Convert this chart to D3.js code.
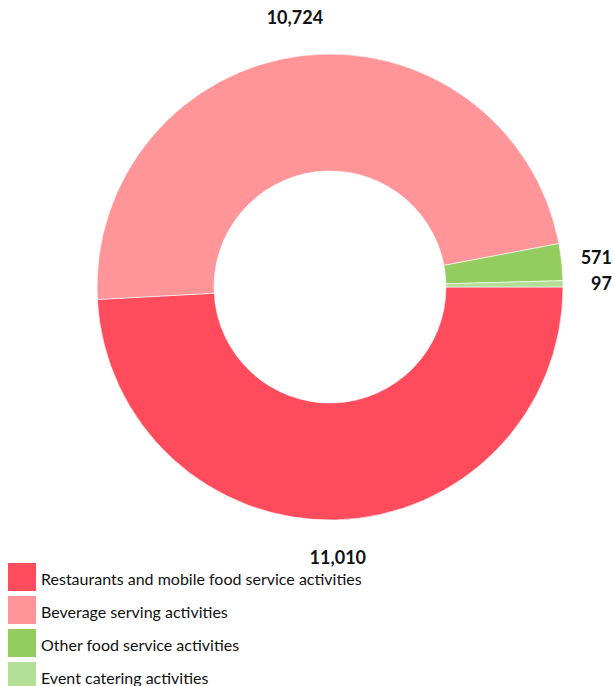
<!DOCTYPE html>
<html>
<head>
<meta charset="utf-8">
<script src="https://cdn.jsdelivr.net/npm/d3@7"></script>
<style>
  body { margin: 0; background: #fff; }
  svg { display: block; font-family: Lato, "Open Sans", sans-serif; }
</style>
</head>
<body>
<div id="chart"></div>
<script>
// categories and values
var categories = [
    "Restaurants and mobile food service activities",
    "Beverage serving activities",
    "Other food service activities",
    "Event catering activities"
];
var values = [11010, 10724, 571, 97];
var colours = ["#ff4c5c", "#ff9599", "#93cd5f", "#b2de96"];

var w = 614, h = 686;
var cx = 330, cy = 287;
var outerR = 233, innerR = 116, labelR = 264;

var svg = d3.select("#chart")
    .append("svg")
    .attr("width", w)
    .attr("height", h);

var data = categories.map(function(c, i) {
    return { name: c, value: values[i], colour: colours[i] };
});

// pie starting at 3 o'clock, keep data order
var pie = d3.pie()
    .sort(null)
    .value(function(d) { return d.value; })
    .startAngle(Math.PI / 2)
    .endAngle(Math.PI / 2 + 2 * Math.PI);

var arc = d3.arc().innerRadius(innerR).outerRadius(outerR);
var labelArc = d3.arc().innerRadius(labelR).outerRadius(labelR);

var g = svg.append("g").attr("transform", "translate(" + cx + "," + cy + ")");

var arcs = pie(data);

g.selectAll("path.slice")
    .data(arcs)
    .enter()
    .append("path")
    .attr("class", "slice")
    .attr("d", arc)
    .style("fill", function(d) { return d.data.colour; })
    .style("stroke", "#fff")
    .style("stroke-width", 0.6);

// value labels outside the ring
var fmt = d3.format(",");
var capH = 14;
g.selectAll("text.val")
    .data(arcs)
    .enter()
    .append("text")
    .attr("class", "val")
    .attr("text-anchor", "middle")
    .attr("dy", "0.35em")
    .style("font-weight", "bold")
    .style("font-size", "18px")
    .style("fill", "#111")
    .text(function(d) { return fmt(d.data.value); })
    .each(function(d) {
        // push the label outward by half its size, keep it inside the page
        var bw = this.getComputedTextLength();
        var p = labelArc.centroid(d);
        var a = (d.startAngle + d.endAngle) / 2;
        var x = p[0] + Math.sin(a) * bw / 2;
        var y = p[1] - Math.cos(a) * capH / 2;
        var maxX = w - 2 - cx - bw / 2;
        if (x > maxX) x = maxX;
        d3.select(this).attr("transform", "translate(" + x + "," + y + ")");
    });

// legend
var legend = svg.append("g").attr("transform", "translate(8,563)");
var items = legend.selectAll("g.item")
    .data(data)
    .enter()
    .append("g")
    .attr("class", "item")
    .attr("transform", function(d, i) { return "translate(0," + (i * 33) + ")"; });

items.append("rect")
    .attr("width", 28)
    .attr("height", 28)
    .style("fill", function(d) { return d.colour; });

items.append("text")
    .attr("x", 33)
    .attr("y", 22)
    .style("font-size", "16px")
    .style("fill", "#111")
    .text(function(d) { return d.name; });
</script>
</body>
</html>
